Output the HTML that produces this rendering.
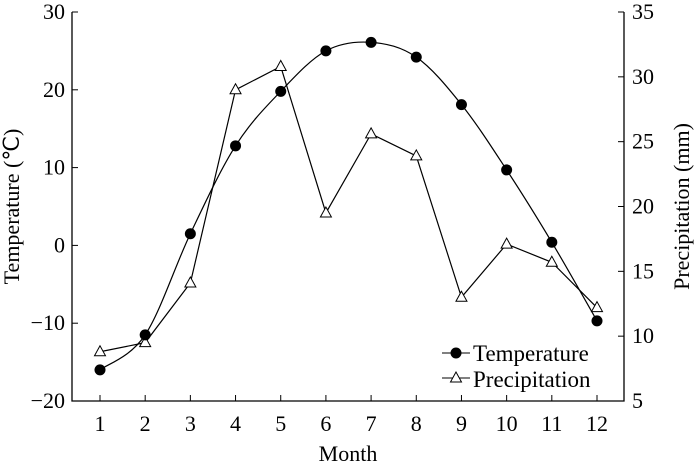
<!DOCTYPE html>
<html><head><meta charset="utf-8"><style>body{margin:0;background:#fff}svg{display:block;font-family:"Liberation Serif",serif}</style></head>
<body>
<svg width="700" height="465">
<g id="g"></g>
</svg>
<script>
const months=[1,2,3,4,5,6,7,8,9,10,11,12];
const temperature=[-16,-11.5,1.5,12.8,19.8,25,26.1,24.2,18.1,9.7,0.4,-9.7];
const precipitation=[8.8,9.5,14.1,29,30.8,19.5,25.6,23.9,13,17.1,15.7,12.2];
const leftTicks=[-20,-10,0,10,20,30];
const rightTicks=[5,10,15,20,25,30,35];
const L=72,R=624,T=12,B=401;
const x=m=>100+(m-1)*(597-100)/11;
const yl=v=>B-(v+20)/50*(B-T);
const yr=v=>B-(v-5)/30*(B-T);
const g=document.getElementById('g');
const NS='http://www.w3.org/2000/svg';
function mk(t,a,p){const e=document.createElementNS(NS,t);for(const k in a)e.setAttribute(k,a[k]);(p||g).appendChild(e);return e;}
let e;
e=mk('path',{d:`M${L},${T}V${B}H${R}V${T}`,fill:'none',stroke:'#000','stroke-width':1.3});


leftTicks.forEach(v=>{mk('line',{x1:L,x2:L+6,y1:yl(v),y2:yl(v),stroke:'#000'});
e=mk('text',{x:L-7,y:yl(v)+7,'text-anchor':'end','font-size':22});e.textContent=v<0?'−'+(-v):v;

});
rightTicks.forEach(v=>{mk('line',{x1:R-6,x2:R,y1:yr(v),y2:yr(v),stroke:'#000'});
e=mk('text',{x:R+8,y:yr(v)+7,'font-size':22});e.textContent=v;

});
months.forEach(m=>{mk('line',{x1:x(m),x2:x(m),y1:B-6,y2:B,stroke:'#000'});
e=mk('text',{x:x(m),y:B+30,'text-anchor':'middle','font-size':22});e.textContent=m;

});
e=mk('text',{x:348,y:461,'text-anchor':'middle','font-size':22});e.textContent='Month';


e=mk('text',{x:0,y:0,'text-anchor':'middle','font-size':22,transform:`translate(19,${(T+B)/2}) rotate(-90)`});e.textContent='Temperature (℃)';


e=mk('text',{x:0,y:0,'text-anchor':'middle','font-size':22,transform:`translate(689,${(T+B)/2}) rotate(-90)`});e.textContent='Precipitation (mm)';


const pts=months.map((m,i)=>[x(m),yl(temperature[i])]);
let d=`M${pts[0][0]},${pts[0][1]}`;
for(let i=0;i<pts.length-1;i++){const p0=pts[Math.max(0,i-1)],p1=pts[i],p2=pts[i+1],p3=pts[Math.min(pts.length-1,i+2)];
d+=`C${p1[0]+(p2[0]-p0[0])/6},${p1[1]+(p2[1]-p0[1])/6} ${p2[0]-(p3[0]-p1[0])/6},${p2[1]-(p3[1]-p1[1])/6} ${p2[0]},${p2[1]}`;}
e=mk('path',{d,fill:'none',stroke:'#000','stroke-width':1.2});


e=mk('polyline',{points:months.map((m,i)=>x(m)+','+yr(precipitation[i])).join(' '),fill:'none',stroke:'#000','stroke-width':1.2});


function tri(cx,cy){return mk('polygon',{points:`${cx},${cy-6} ${cx-5.5},${cy+4} ${cx+5.5},${cy+4}`,fill:'#fff',stroke:'#000','stroke-width':1});}
months.forEach((m,i)=>{e=tri(x(m),yr(precipitation[i]));


e=mk('circle',{cx:x(m),cy:yl(temperature[i]),r:5.5,fill:'#000'});

});
mk('line',{x1:442,x2:470,y1:353,y2:353,stroke:'#000'});
e=mk('circle',{cx:456,cy:353,r:5.5,fill:'#000'});


e=mk('text',{x:473,y:361,'font-size':23});e.textContent='Temperature';


mk('line',{x1:442,x2:470,y1:378,y2:378,stroke:'#000'});
e=tri(456,378);


e=mk('text',{x:473,y:387,'font-size':23});e.textContent='Precipitation';


</script>
</body></html>
